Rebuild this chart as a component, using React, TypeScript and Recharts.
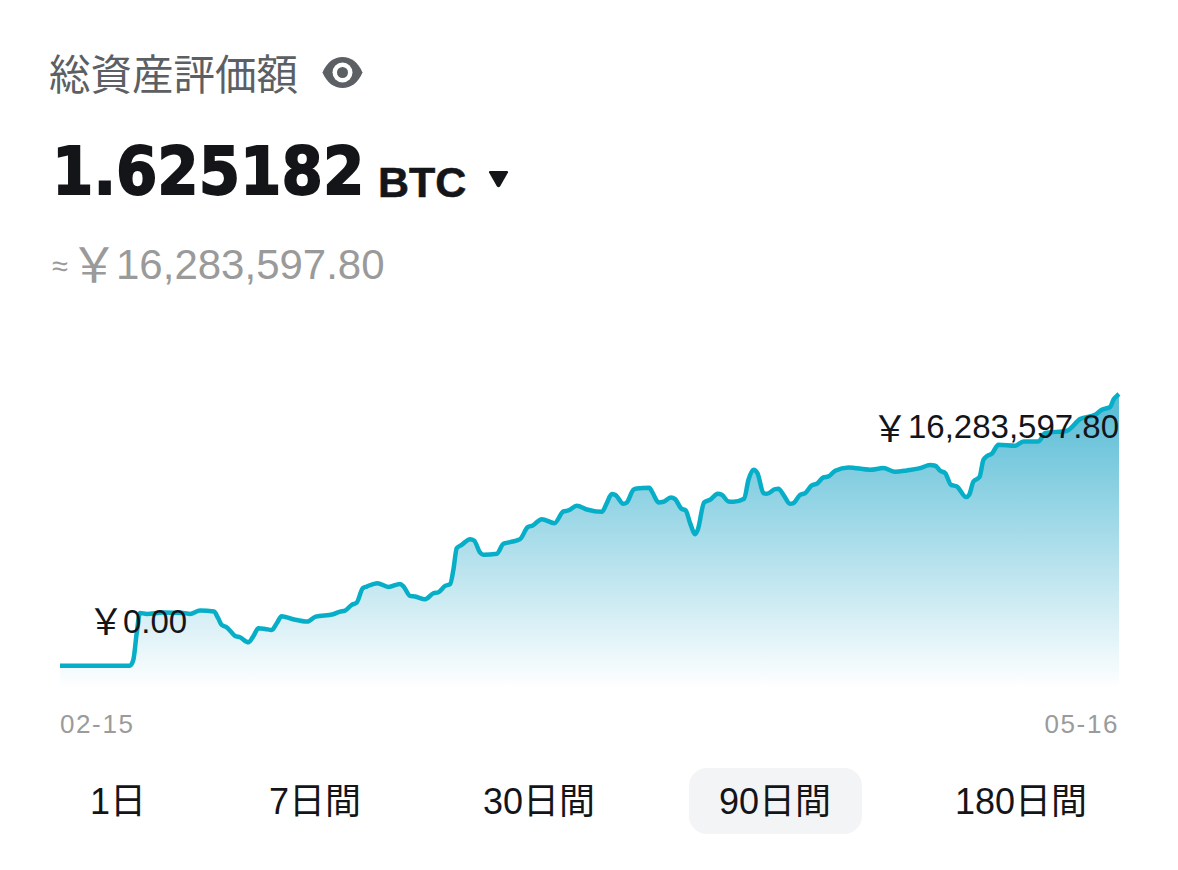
import React from "react";
import { AreaChart, Area, XAxis, YAxis } from "recharts";

const days = [0,5.95,6.23,6.52,6.8,7.37,8.76,10.46,11.05,11.9,13.09,13.43,13.74,14.17,14.88,15.3,16.01,16.41,16.86,17.43,18,18.42,18.84,19.81,21.02,21.73,23.21,23.8,24.23,24.79,25.22,25.73,26.07,26.97,27.91,28.9,29.24,29.75,30.18,31.03,31.73,32.16,32.73,33.15,33.43,33.72,34.14,34.85,35.19,35.7,35.98,37.12,37.68,38.25,39.1,39.75,40.18,40.94,42.02,42.78,43.21,43.92,44.77,46.05,46.47,46.89,47.18,47.88,48.17,48.73,49.02,50.07,50.38,50.86,51.28,51.91,52.28,52.79,53.18,53.55,53.98,54.2,54.74,55.25,55.9,56.24,56.81,57.23,58.14,58.51,58.93,59.27,59.78,60.07,60.78,61.06,61.48,62.05,62.33,62.9,63.33,63.89,64.32,64.88,65.31,65.88,67.01,68.85,69.98,70.98,71.97,73.1,73.95,74.38,74.8,75.23,75.71,76.22,77.01,77.27,77.63,78.14,78.48,78.82,79.19,79.76,81.18,81.88,83.16,83.73,85.57,86.7,87.98,88.54,89.25,89.53,89.87,90];
// Portfolio value in millions of yen
const values = [0,0,0.34,1.96,3.16,3.1,3.18,3.16,3.1,3.3,3.24,2.86,2.44,2.3,1.78,1.7,1.4,1.74,2.24,2.2,2.14,2.54,2.96,2.78,2.64,2.94,3.08,3.24,3.3,3.64,3.78,4.64,4.74,4.94,4.72,4.9,4.7,4.18,4.14,3.98,4.34,4.4,4.78,4.88,5.74,7.04,7.24,7.58,7.5,6.78,6.64,6.7,7.3,7.4,7.58,8.3,8.4,8.78,8.54,9.24,9.3,9.58,9.36,9.22,9.74,10.28,10.24,9.7,9.78,10.54,10.62,10.66,10.34,9.78,9.82,10.08,9.98,9.42,9.3,8.54,7.88,8.14,9.78,9.94,10.3,10.24,9.84,9.82,10,11.14,11.74,11.54,10.34,10.3,10.58,10.6,10.24,9.7,9.74,10.24,10.34,10.8,10.9,11.28,11.34,11.68,11.88,11.74,11.84,11.62,11.7,11.84,12.02,11.98,11.68,11.54,10.84,10.74,10.1,10.24,11.04,11.3,12.34,12.58,12.7,13.24,13.18,13.44,13.44,13.94,14.08,14.78,15.04,15.34,15.5,15.94,16.2,16.28];
const tickDays = [0, 90];
const tickLabels = ["02-15", "05-16"];
const tabs = ["1日", "7日間", "30日間", "90日間", "180日間"];
const tabCenters = [118, 315, 539, 775, 1021];

const data = days.map((day, i) => ({ day, value: values[i] }));

const SANS = "'Liberation Sans', 'Noto Sans CJK JP', sans-serif";
const YEN = "\uFFE5";
const abs = (left: number, top: number, extra: React.CSSProperties = {}): React.CSSProperties => ({
  position: "absolute", left, top, whiteSpace: "nowrap", fontFamily: SANS, ...extra,
});

function Tick(props: any) {
  const { x, payload } = props;
  const i = tickDays.indexOf(payload.value);
  return (
    <text x={x} y={724} textAnchor={i === 0 ? "start" : "end"} dominantBaseline="central"
      fontFamily={SANS} fontSize={26} letterSpacing={1.6} fill="#9b9b9b">
      {tickLabels[i]}
    </text>
  );
}

export default function App() {
  return (
    <div style={{ position: "absolute", left: 0, top: 0, width: 1178, height: 870, background: "#fff", overflow: "hidden" }}>
      <div style={abs(49, 46, { fontFamily: "'Noto Sans CJK JP'", fontSize: 41.5, lineHeight: "52px", fontWeight: 400, color: "#5c5f63" })}>総資産評価額</div>
      <svg style={{ position: "absolute", left: 322, top: 56 }} width={41} height={33} viewBox="0 0 41 33">
        <path d="M0.5 16.5C5 6 12 1 20.5 1S36 6 40.5 16.5C36 27 29 32 20.5 32S5 27 0.5 16.5Z" fill="#5c5f63" />
        <circle cx={20.5} cy={16.5} r={10} fill="#fff" />
        <circle cx={20.5} cy={16.5} r={5.5} fill="#5c5f63" />
      </svg>
      <div style={abs(52, 133, { fontFamily: "'DejaVu Sans'", fontWeight: 700, fontSize: 65, lineHeight: "78px", color: "#141519", transform: "scaleX(0.915)", transformOrigin: "0 0", WebkitTextStroke: "1.8px #141519" })}>1.625182</div>
      <div style={abs(378, 157, { fontWeight: 700, fontSize: 43, lineHeight: "50px", color: "#141519", WebkitTextStroke: "0.6px #141519" })}>BTC</div>
      <svg style={{ position: "absolute", left: 488, top: 171 }} width={21} height={17} viewBox="0 0 21 17">
        <path d="M1 1.5Q0.5 0 2 0H19Q20.5 0 20 1.5L12 15.5Q10.5 17 9 15.5Z" fill="#141519" />
      </svg>
      <div style={abs(52, 244, { fontSize: 29, lineHeight: "44px", color: "#9a9a9a" })}>≈</div>
      <div style={abs(70, 237, { fontFamily: "'Noto Sans CJK JP'", fontSize: 48, lineHeight: "48px", color: "#9a9a9a" })}>{YEN}</div>
      <div style={abs(116, 241, { fontSize: 42, lineHeight: "48px", color: "#9a9a9a" })}>16,283,597.80</div>

      <AreaChart width={1178} height={870} data={data} margin={{ top: 394, right: 59, bottom: 142, left: 60 }} style={{ position: "absolute", left: 0, top: 0 }}>
        <defs>
          <linearGradient id="fade" x1="0" y1="0" x2="0" y2="1">
            <stop offset="0%" stopColor="#55bbd5" />
            <stop offset="100%" stopColor="#ffffff" />
          </linearGradient>
        </defs>
        <XAxis dataKey="day" type="number" domain={[0, 90]} ticks={tickDays} interval={0} height={40} axisLine={false} tickLine={false} tickMargin={0} tick={<Tick />} />
        <YAxis hide type="number" domain={[-1.34, 16.28]} />
        <Area type="monotone" dataKey="value" baseValue={-1.34} stroke="#07aec8" strokeWidth={4.5} strokeLinejoin="round" fill="url(#fade)" fillOpacity={1} dot={false} activeDot={false} isAnimationActive={false} />
      </AreaChart>

      <div style={abs(88, 597, { fontFamily: "'Noto Sans CJK JP'", fontSize: 36, lineHeight: "44px", color: "#141519" })}>{YEN}</div>
      <div style={abs(123, 603, { fontSize: 33, lineHeight: "38px", color: "#141519" })}>0.00</div>
      <div style={abs(872, 404, { fontFamily: "'Noto Sans CJK JP'", fontSize: 36, lineHeight: "44px", color: "#141519" })}>{YEN}</div>
      <div style={abs(908, 408, { fontSize: 33, lineHeight: "38px", color: "#141519" })}>16,283,597.80</div>

      <div style={{ position: "absolute", left: 689, top: 768, width: 173, height: 66, borderRadius: 18, background: "#f3f4f6" }} />
      {tabs.map((t, i) => (
        <div key={t} style={abs(tabCenters[i] - 100, 780, { width: 200, textAlign: "center", fontSize: 36, lineHeight: "44px", color: "#141519" })}>{t}</div>
      ))}
    </div>
  );
}
